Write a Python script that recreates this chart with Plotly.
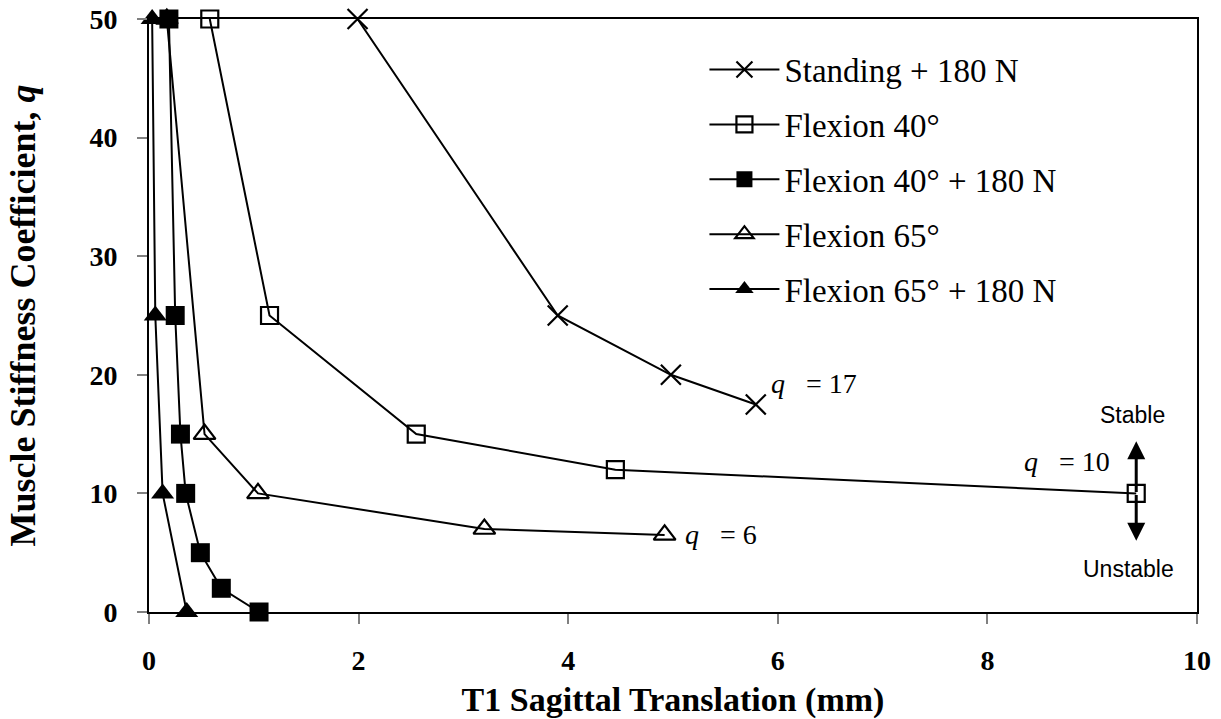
import plotly.graph_objects as go

# ---- data ----
standing_x = [1.99, 3.90, 4.98, 5.79]
standing_y = [50, 25, 20, 17.5]

flex40_x = [0.58, 1.15, 2.55, 4.45, 9.42]
flex40_y = [50, 25, 15, 12, 10]

flex40_180_x = [0.19, 0.25, 0.30, 0.35, 0.49, 0.69, 1.05]
flex40_180_y = [50, 25, 15, 10, 5, 2, 0]

flex65_x = [0.17, 0.53, 1.04, 3.20, 4.92]
flex65_y = [50, 15, 10, 7, 6.5]

flex65_180_x = [0.03, 0.06, 0.13, 0.36]
flex65_180_y = [50, 25, 10, 0]

series_names = ["Standing + 180 N", "Flexion 40°", "Flexion 40° + 180 N",
                "Flexion 65°", "Flexion 65° + 180 N"]

x_ticks = [0, 2, 4, 6, 8, 10]
y_ticks = [0, 10, 20, 30, 40, 50]

SERIF = "Liberation Serif, Times New Roman, serif"
SANS = "Liberation Sans, Arial, sans-serif"

fig = go.Figure()

styles = [
    (standing_x, standing_y, dict(symbol="x-thin", size=20, line=dict(width=2.2, color="black"))),
    (flex40_x, flex40_y, dict(symbol="square-open", size=17, color="black", line=dict(width=2.2, color="black"))),
    (flex40_180_x, flex40_180_y, dict(symbol="square", size=19, color="black", line=dict(width=0))),
    (flex65_x, flex65_y, dict(symbol="triangle-up-open", size=19, color="black", line=dict(width=2.2, color="black"))),
    (flex65_180_x, flex65_180_y, dict(symbol="triangle-up", size=20, color="black", line=dict(width=0))),
]

for i, (xs, ys, mk) in enumerate(styles):
    fig.add_trace(go.Scatter(
        x=xs, y=ys, mode="lines+markers", name=series_names[i],
        line=dict(color="black", width=2), marker=mk,
        legendgroup=f"g{i}", cliponaxis=False,
    ))

# annotations
q_labels = [("<i>q</i>   = 17", 5.92, 19.3), ("<i>q</i>   = 10", 8.33, 12.7), ("<i>q</i>   = 6", 5.1, 6.5)]
for txt, ax_, ay_ in q_labels:
    fig.add_annotation(x=ax_, y=ay_, text=txt, showarrow=False, xanchor="left", yanchor="middle",
                       font=dict(family=SERIF, size=28, color="black"))

fig.add_annotation(x=9.38, y=16.6, text="Stable", showarrow=False,
                   font=dict(family=SANS, size=23, color="black"))
fig.add_annotation(x=9.35, y=3.6, text="Unstable", showarrow=False,
                   font=dict(family=SANS, size=23, color="black"))
# double arrow
for head_y in (14.4, 6.0):
    fig.add_annotation(x=9.42, y=head_y, ax=9.42, ay=10, axref="x", ayref="y",
                       xref="x", yref="y", text="", showarrow=True,
                       arrowhead=2, arrowsize=1.2, arrowwidth=3, arrowcolor="black")

axis_common = dict(
    showline=True, linecolor="black", linewidth=2, mirror=True,
    ticks="outside", ticklen=10, tickcolor="#808080", tickwidth=1.5,
    showgrid=False, zeroline=False, automargin=False,
    tickfont=dict(family=SERIF, size=28, color="black", weight="bold"),
)

fig.update_xaxes(range=[0, 10], tickvals=x_ticks, **axis_common,
                 ticklabelstandoff=12,
                 title=dict(text="<b>T1 Sagittal Translation (mm)</b>",
                            font=dict(family=SERIF, size=34, color="black"), standoff=25))
fig.update_yaxes(range=[0, 50], tickvals=y_ticks, **axis_common,
                 ticklabelstandoff=14,
                 title=dict(text="<b>Muscle Stiffness Coefficient, <i>q</i></b>",
                            font=dict(family=SERIF, size=36, color="black"), standoff=43))

fig.update_layout(
    width=1221, height=719,
    margin=dict(l=149, r=24, t=19, b=107),
    plot_bgcolor="white", paper_bgcolor="white",
    showlegend=True,
    legend=dict(x=0.53, y=0.962, xanchor="left", yanchor="top",
                font=dict(family=SERIF, size=33, color="black"),
                itemwidth=70, tracegroupgap=9, bgcolor="rgba(0,0,0,0)"),
)

fig.write_html("out.html")
